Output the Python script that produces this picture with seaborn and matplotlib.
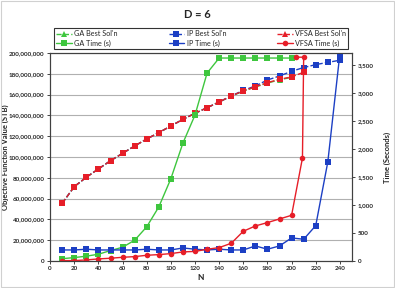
import matplotlib
matplotlib.use("Agg")
import matplotlib.pyplot as plt
import seaborn as sns

# N values
n_main = [10, 20, 30, 40, 50, 60, 70, 80, 90, 100, 110, 120, 130, 140, 150, 160, 170, 180, 190, 200]
n_ip = n_main + [210, 220, 230, 240]

# Objective function value (STB), millions
ga_best = [55.5, 71.5, 80.5, 88.5, 96.4, 103.5, 110.6, 117.3, 123.4, 129.8, 136.2, 142.0, 147.4, 152.9,
           158.5, 163.3, 167.3, 171.0, 174.3, 176.5]
ip_best = [55.5, 71.5, 80.5, 88.5, 96.4, 103.5, 110.6, 117.3, 123.4, 129.8, 136.2, 142.0, 147.4, 152.9,
           158.7, 164.0, 168.3, 174.0, 177.9, 182.4, 186.0, 188.8, 191.0, 193.0]
n_vfsa_best = n_main + [210]
vfsa_best = [55.5, 71.5, 80.5, 88.5, 96.4, 103.5, 110.6, 117.3, 123.4, 129.8, 136.2, 142.0, 147.4, 152.9,
             158.7, 163.5, 167.6, 171.5, 174.7, 177.0, 181.5]

# Time (s)
ga_time = [40, 60, 85, 120, 185, 245, 370, 610, 965, 1470, 2107, 2607, 3357, 3625,
           3625, 3625, 3625, 3625, 3625, 3625]
ip_time = [196, 196, 209, 196, 196, 196, 196, 209, 196, 196, 232, 209, 196, 209,
           196, 196, 268, 209, 268, 411, 387, 631, 1768, 3700]
n_vfsa_time = n_main + [209, 210, 204]
vfsa_time = [5, 6, 18, 36, 48, 65, 77, 101, 113, 131, 161, 170, 209, 238,
             315, 530, 625, 685, 750, 815, 1839, 3640, 3640]

green = "#3ec63e"
blue = "#1c3fc4"
red = "#e61e28"

sns.set_theme(style="white")
plt.rcParams["font.family"] = ["Lato", "DejaVu Sans"]

fig = plt.figure(figsize=(3.95, 2.88), dpi=100)
ax = fig.add_axes([0.127, 0.094, 0.764, 0.722])
ax2 = ax.twinx()

kw = dict(estimator=None, sort=False, linewidth=1.0, markersize=4, markeredgewidth=0)
sns.lineplot(x=n_main, y=[v * 1e6 for v in ga_best], ax=ax, color=green, marker="^",
             linestyle="--", label="GA Best Sol'n", legend=False, **kw)
sns.lineplot(x=n_ip, y=[v * 1e6 for v in ip_best], ax=ax, color=blue, marker="s",
             linestyle="--", label="IP Best Sol'n", legend=False, **kw)
sns.lineplot(x=n_vfsa_best, y=[v * 1e6 for v in vfsa_best], ax=ax, color=red, marker="s",
             linestyle="--", label="VFSA Best Sol'n", legend=False, **kw)

sns.lineplot(x=n_main, y=ga_time, ax=ax2, color=green, marker="s", label="GA Time (s)", legend=False, **kw)
sns.lineplot(x=n_ip, y=ip_time, ax=ax2, color=blue, marker="s", label="IP Time (s)", legend=False, **kw)
sns.lineplot(x=n_vfsa_time, y=vfsa_time, ax=ax2, color=red, marker="o", label="VFSA Time (s)", legend=False, **kw)

ax.set_xlim(0, 250)
ax.set_xticks(range(0, 241, 20))
ax.set_ylim(0, 200e6)
ax.set_yticks(range(0, 200000001, 20000000))
ax.set_yticklabels([f"{v:,}" for v in range(0, 200000001, 20000000)])
ax2.set_ylim(0, 3715)
ax2.set_yticks(range(0, 3501, 500))
ax2.set_yticklabels([f"{v:,}" for v in range(0, 3501, 500)])

ax.grid(axis="y", color="#b0b0b0", linewidth=0.8)
for a in (ax, ax2):
    a.tick_params(labelsize=4.5, length=2, pad=2, width=0.6, direction="out")
    for lab in a.get_xticklabels() + a.get_yticklabels():
        lab.set_fontweight("bold")
    for s in a.spines.values():
        s.set_color("#404040")
        s.set_linewidth(0.8)
ax.tick_params(axis="both", which="both", left=True, bottom=True)
ax2.tick_params(axis="y", right=True)

ax.set_xlabel("N", fontsize=6, fontweight="bold", labelpad=2)
ax.set_ylabel("Objective Function Value (STB)", fontsize=5.5, fontweight="bold")
ax.yaxis.set_label_coords(-0.135, 0.5)
ax2.set_ylabel("Time (Seconds)", fontsize=5.5, fontweight="bold")
ax2.yaxis.set_label_coords(1.105, 0.5)

fig.text(0.5, 0.951, "D = 6", ha="center", va="center", fontsize=8, fontweight="bold")

h1, l1 = ax.get_legend_handles_labels()
h2, l2 = ax2.get_legend_handles_labels()
handles = [h1[0], h2[0], h1[1], h2[1], h1[2], h2[2]]
labels = [l1[0], l2[0], l1[1], l2[1], l1[2], l2[2]]
# legend markers as in the reference (triangle for VFSA best)
leg = fig.legend(handles, labels, ncol=3, loc="center", bbox_to_anchor=(0.127, 0.826, 0.764, 0.08),
                 mode="expand", fontsize=5.2, frameon=True, fancybox=False, edgecolor="black",
                 borderpad=0.3, labelspacing=0.3, handlelength=2.2, handletextpad=0.3, columnspacing=1.0)
leg.get_frame().set_linewidth(0.8)
leg.legend_handles[4].set_marker("^")

fig.patches.append(plt.Rectangle((0.002, 0.003), 0.995, 0.994, transform=fig.transFigure,
                                 fill=False, edgecolor="#d0d0d0", linewidth=0.8))

fig.savefig("out.png", dpi=100)
